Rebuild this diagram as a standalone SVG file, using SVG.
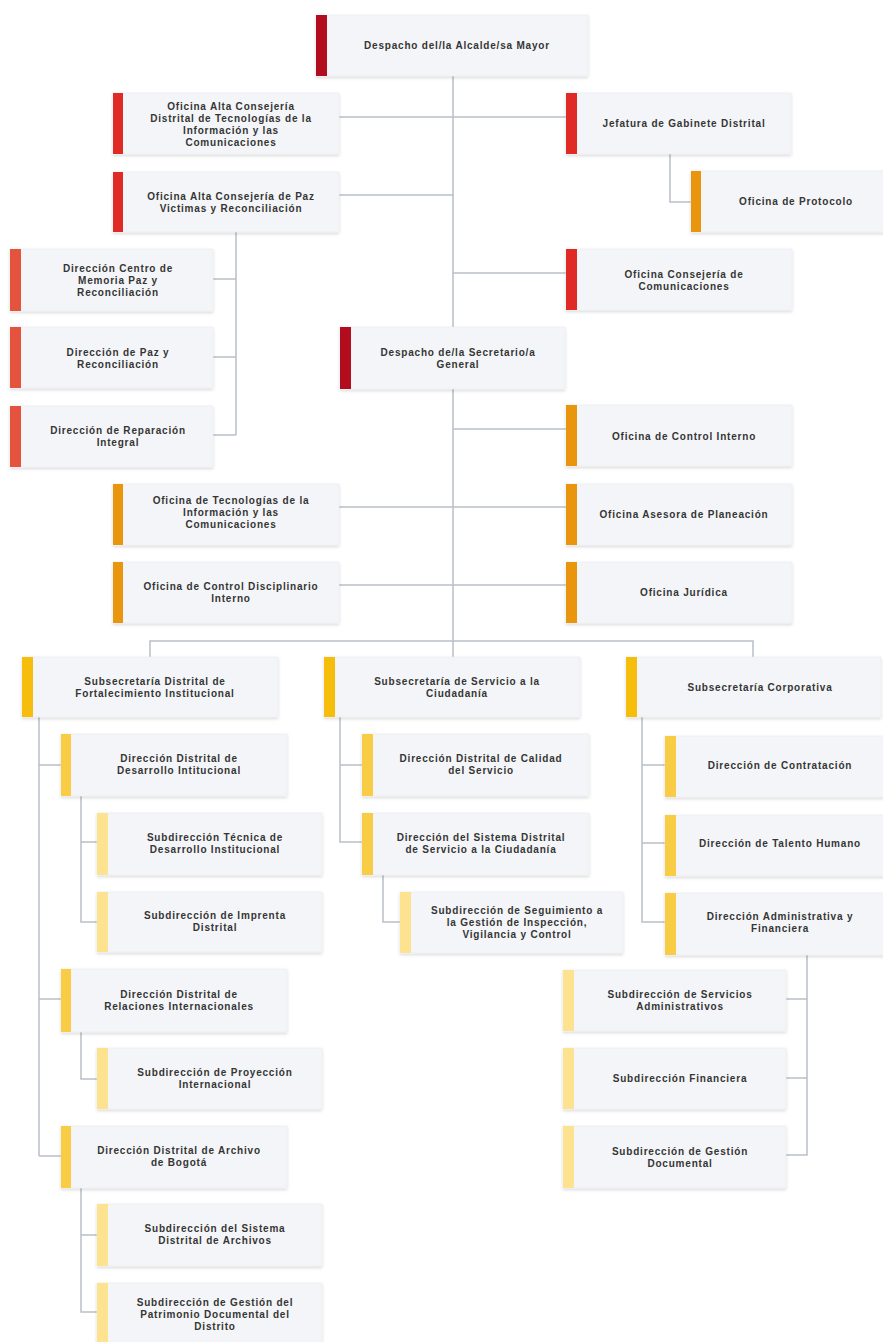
<svg xmlns="http://www.w3.org/2000/svg" width="883" height="1342" viewBox="0 0 883 1342">
<defs>
<filter id="sh" x="-10%" y="-20%" width="120%" height="150%">
<feDropShadow dx="0" dy="1.5" stdDeviation="1.6" flood-color="#000" flood-opacity="0.16"/>
</filter>
</defs>
<style>
.box{fill:#f4f5f8;stroke:#e9ebef;stroke-width:0.6;filter:url(#sh)}
.dark{fill:#b10d1e}
.red{fill:#e02a26}
.ro{fill:#e5523d}
.org{fill:#e9960e}
.gold{fill:#f6bd0c}
.yel{fill:#f8cd45}
.lt{fill:#fde28f}
text{font-family:"Liberation Sans",Arial,sans-serif;font-weight:bold;font-size:10px;letter-spacing:0.8px;fill:#353535;text-anchor:middle}
.cn{fill:none;stroke:#b9bec8;stroke-width:1.5}
</style>
<rect width="883" height="1342" fill="#ffffff"/>
<g id="connectors" class="cn">
<path d="M453 76V327M453 389V657"/>
<path d="M339 117H566"/>
<path d="M339 195H453"/>
<path d="M453 273H566"/>
<path d="M670 154V202H691"/>
<path d="M236 232V435M213 279H236M213 357H236M213 435H236"/>
<path d="M453 429H566M339 507H566M339 585H566"/>
<path d="M150 657V641H753V657"/>
<path d="M39 717V1156M39 765H61M39 999H61M39 1156H61"/>
<path d="M81 796V922H97M81 842H97"/>
<path d="M81 1032V1079H97"/>
<path d="M81 1188V1312H97M81 1235H97"/>
<path d="M340 717V842H362M340 765H362"/>
<path d="M383 875V922H400"/>
<path d="M642 717V922H665M642 765H665M642 843H665"/>
<path d="M807 955V1155H786M786 999H807M786 1078H807"/>
</g>
<g id="alcalde"><rect class="box" x="316" y="15" width="272" height="61"/><rect class="dark" x="316" y="15" width="11" height="61"/><text x="457" y="49">Despacho del/la Alcalde/sa Mayor</text></g>
<g id="tic"><rect class="box" x="113" y="93" width="226" height="61"/><rect class="red" x="113" y="93" width="10" height="61"/><text x="231" y="110">Oficina Alta Consejería</text><text x="231" y="122">Distrital de Tecnologías de la</text><text x="231" y="134">Información y las</text><text x="231" y="146">Comunicaciones</text></g>
<g id="paz"><rect class="box" x="113" y="172" width="226" height="60"/><rect class="red" x="113" y="172" width="10" height="60"/><text x="231" y="200">Oficina Alta Consejería de Paz</text><text x="231" y="212">Victimas y Reconciliación</text></g>
<g id="jefatura"><rect class="box" x="566" y="93" width="225" height="61"/><rect class="red" x="566" y="93" width="11" height="61"/><text x="684" y="127">Jefatura de Gabinete Distrital</text></g>
<g id="protocolo"><rect class="box" x="691" y="171" width="194" height="61"/><rect class="org" x="691" y="171" width="10" height="61"/><text x="796" y="205">Oficina de Protocolo</text></g>
<g id="comunicaciones"><rect class="box" x="566" y="249" width="226" height="61"/><rect class="red" x="566" y="249" width="11" height="61"/><text x="684" y="278">Oficina Consejería de</text><text x="684" y="290">Comunicaciones</text></g>
<g id="memoria"><rect class="box" x="10" y="249" width="203" height="62"/><rect class="ro" x="10" y="249" width="11" height="62"/><text x="118" y="272">Dirección Centro de</text><text x="118" y="284">Memoria Paz y</text><text x="118" y="296">Reconciliación</text></g>
<g id="dirpaz"><rect class="box" x="10" y="327" width="203" height="61"/><rect class="ro" x="10" y="327" width="11" height="61"/><text x="118" y="356">Dirección de Paz y</text><text x="118" y="368">Reconciliación</text></g>
<g id="reparacion"><rect class="box" x="10" y="406" width="203" height="61"/><rect class="ro" x="10" y="406" width="11" height="61"/><text x="118" y="434">Dirección de Reparación</text><text x="118" y="446">Integral</text></g>
<g id="secretario"><rect class="box" x="340" y="327" width="225" height="62"/><rect class="dark" x="340" y="327" width="11" height="62"/><text x="458" y="356">Despacho de/la Secretario/a</text><text x="458" y="368">General</text></g>
<g id="controlinterno"><rect class="box" x="566" y="405" width="226" height="61"/><rect class="org" x="566" y="405" width="11" height="61"/><text x="684" y="440">Oficina de Control Interno</text></g>
<g id="tecnologias"><rect class="box" x="113" y="484" width="226" height="61"/><rect class="org" x="113" y="484" width="10" height="61"/><text x="231" y="504">Oficina de Tecnologías de la</text><text x="231" y="516">Información y las</text><text x="231" y="528">Comunicaciones</text></g>
<g id="planeacion"><rect class="box" x="566" y="484" width="226" height="61"/><rect class="org" x="566" y="484" width="11" height="61"/><text x="684" y="518">Oficina Asesora de Planeación</text></g>
<g id="disciplinario"><rect class="box" x="113" y="562" width="226" height="61"/><rect class="org" x="113" y="562" width="10" height="61"/><text x="231" y="590">Oficina de Control Disciplinario</text><text x="231" y="602">Interno</text></g>
<g id="juridica"><rect class="box" x="566" y="562" width="226" height="61"/><rect class="org" x="566" y="562" width="11" height="61"/><text x="684" y="596">Oficina Jurídica</text></g>
<g id="sub_fortalecimiento"><rect class="box" x="22" y="657" width="256" height="60"/><rect class="gold" x="22" y="657" width="11" height="60"/><text x="155" y="685">Subsecretaría Distrital de</text><text x="155" y="697">Fortalecimiento Institucional</text></g>
<g id="sub_servicio"><rect class="box" x="324" y="657" width="256" height="60"/><rect class="gold" x="324" y="657" width="11" height="60"/><text x="457" y="685">Subsecretaría de Servicio a la</text><text x="457" y="697">Ciudadanía</text></g>
<g id="sub_corporativa"><rect class="box" x="626" y="657" width="255" height="60"/><rect class="gold" x="626" y="657" width="11" height="60"/><text x="760" y="691">Subsecretaría Corporativa</text></g>
<g id="dd_desarrollo"><rect class="box" x="61" y="734" width="226" height="62"/><rect class="yel" x="61" y="734" width="10" height="62"/><text x="179" y="762">Dirección Distrital de</text><text x="179" y="774">Desarrollo Intitucional</text></g>
<g id="sd_tecnica"><rect class="box" x="97" y="813" width="225" height="62"/><rect class="lt" x="97" y="813" width="11" height="62"/><text x="215" y="841">Subdirección Técnica de</text><text x="215" y="853">Desarrollo Institucional</text></g>
<g id="sd_imprenta"><rect class="box" x="97" y="892" width="225" height="60"/><rect class="lt" x="97" y="892" width="11" height="60"/><text x="215" y="919">Subdirección de Imprenta</text><text x="215" y="931">Distrital</text></g>
<g id="dd_relaciones"><rect class="box" x="61" y="969" width="226" height="63"/><rect class="yel" x="61" y="969" width="10" height="63"/><text x="179" y="998">Dirección Distrital de</text><text x="179" y="1010">Relaciones Internacionales</text></g>
<g id="sd_proyeccion"><rect class="box" x="97" y="1048" width="225" height="61"/><rect class="lt" x="97" y="1048" width="11" height="61"/><text x="215" y="1076">Subdirección de Proyección</text><text x="215" y="1088">Internacional</text></g>
<g id="dd_archivo"><rect class="box" x="61" y="1126" width="226" height="62"/><rect class="yel" x="61" y="1126" width="10" height="62"/><text x="179" y="1154">Dirección Distrital de Archivo</text><text x="179" y="1166">de Bogotá</text></g>
<g id="sd_sistema_archivos"><rect class="box" x="97" y="1204" width="225" height="62"/><rect class="lt" x="97" y="1204" width="11" height="62"/><text x="215" y="1232">Subdirección del Sistema</text><text x="215" y="1244">Distrital de Archivos</text></g>
<g id="sd_patrimonio"><rect class="box" x="97" y="1283" width="225" height="72"/><rect class="lt" x="97" y="1283" width="11" height="72"/><text x="215" y="1306">Subdirección de Gestión del</text><text x="215" y="1318">Patrimonio Documental del</text><text x="215" y="1330">Distrito</text></g>
<g id="dd_calidad"><rect class="box" x="362" y="734" width="227" height="62"/><rect class="yel" x="362" y="734" width="11" height="62"/><text x="481" y="762">Dirección Distrital de Calidad</text><text x="481" y="774">del Servicio</text></g>
<g id="dd_sistema_servicio"><rect class="box" x="362" y="813" width="227" height="62"/><rect class="yel" x="362" y="813" width="11" height="62"/><text x="481" y="841">Dirección del Sistema Distrital</text><text x="481" y="853">de Servicio a la Ciudadanía</text></g>
<g id="sd_seguimiento"><rect class="box" x="400" y="892" width="223" height="61"/><rect class="lt" x="400" y="892" width="11" height="61"/><text x="517" y="914">Subdirección de Seguimiento a</text><text x="517" y="926">la Gestión de Inspección,</text><text x="517" y="938">Vigilancia y Control</text></g>
<g id="dd_contratacion"><rect class="box" x="665" y="736" width="220" height="61"/><rect class="yel" x="665" y="736" width="11" height="61"/><text x="780" y="769">Dirección de Contratación</text></g>
<g id="dd_talento"><rect class="box" x="665" y="815" width="220" height="61"/><rect class="yel" x="665" y="815" width="11" height="61"/><text x="780" y="847">Dirección de Talento Humano</text></g>
<g id="dd_administrativa"><rect class="box" x="665" y="893" width="220" height="62"/><rect class="yel" x="665" y="893" width="11" height="62"/><text x="780" y="920">Dirección Administrativa y</text><text x="780" y="932">Financiera</text></g>
<g id="sd_servicios"><rect class="box" x="563" y="970" width="223" height="61"/><rect class="lt" x="563" y="970" width="11" height="61"/><text x="680" y="998">Subdirección de Servicios</text><text x="680" y="1010">Administrativos</text></g>
<g id="sd_financiera"><rect class="box" x="563" y="1048" width="223" height="61"/><rect class="lt" x="563" y="1048" width="11" height="61"/><text x="680" y="1082">Subdirección Financiera</text></g>
<g id="sd_gestion_documental"><rect class="box" x="563" y="1126" width="223" height="62"/><rect class="lt" x="563" y="1126" width="11" height="62"/><text x="680" y="1155">Subdirección de Gestión</text><text x="680" y="1167">Documental</text></g>
</svg>
